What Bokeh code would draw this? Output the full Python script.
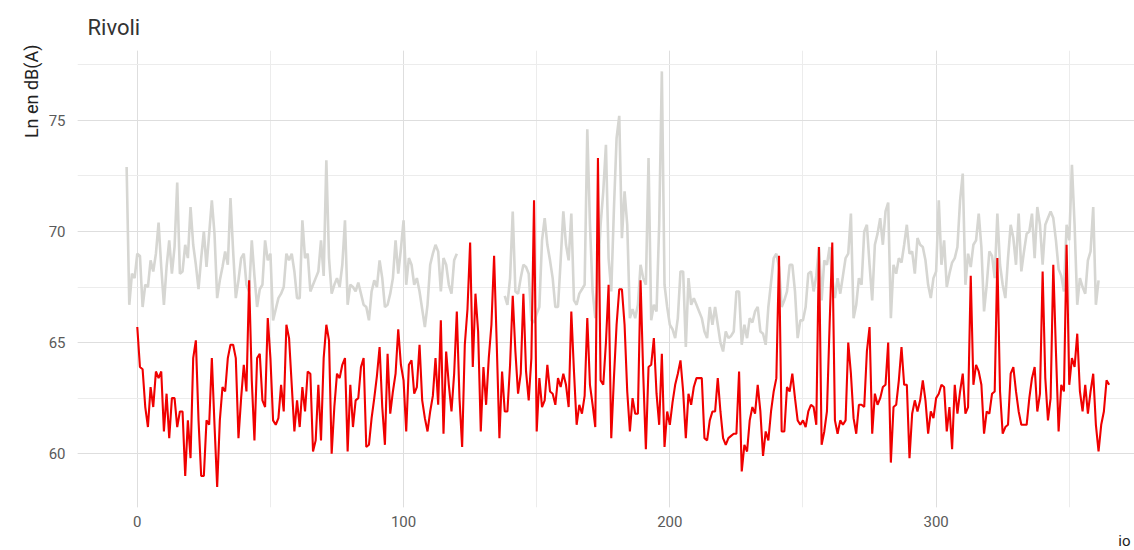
import numpy as np
from bokeh.plotting import figure
from bokeh.models import Range1d, SingleIntervalTicker, Title
from bokeh.embed import file_html
from bokeh.resources import INLINE

# ---- data ----
grey_days = list(range(-4, 121)) + list(range(138, 362))
grey_vals = [
    72.9, 66.7, 68.1, 67.9, 69.0, 68.9, 66.6, 67.6, 67.5, 68.7, 68.2, 69.0, 70.4, 68.4, 66.7, 68.4,
    69.6, 68.1, 69.3, 72.2, 68.1, 68.2, 69.4, 68.8, 71.1, 69.4, 68.5, 67.4, 68.8, 70.0, 68.4, 69.9,
    71.4, 69.9, 67.0, 67.8, 68.4, 69.1, 68.5, 71.5, 69.1, 67.0, 67.8, 68.8, 69.0, 67.6, 67.3, 69.6,
    68.0, 66.6, 67.4, 67.6, 69.6, 68.7, 69.0, 66.0, 66.5, 67.0, 67.2, 67.5, 69.0, 68.7, 69.0, 68.2,
    67.0, 67.0, 70.5, 68.8, 69.0, 67.3, 67.6, 67.9, 68.2, 69.6, 68.0, 73.2, 68.8, 67.2, 67.6, 67.9,
    67.5, 68.5, 70.5, 66.7, 67.6, 67.5, 67.3, 67.7, 67.2, 66.7, 66.6, 66.0, 67.3, 67.8, 67.5, 68.7,
    67.9, 66.6, 66.7, 67.2, 67.9, 69.6, 68.1, 69.2, 70.5, 67.6, 68.8, 68.5, 67.6, 67.9, 67.3, 66.5,
    65.7, 66.7, 68.5, 69.0, 69.4, 69.1, 67.3, 68.8, 68.5, 67.6, 67.2, 68.7, 69.0,
    # 138 ->
    67.1, 66.7, 67.9, 70.9, 67.3, 67.2, 67.9, 68.5, 68.4, 68.1, 66.0, 65.9, 66.3, 66.6, 69.6, 70.6,
    69.4, 68.7, 67.9, 66.6, 66.6, 68.7, 70.9, 69.4, 68.7, 70.8, 66.9, 66.7, 67.2, 67.4, 67.6, 74.6,
    70.3, 67.3, 66.1, 68.0, 70.3, 71.8, 73.9, 68.8, 67.3, 71.0, 74.2, 75.2, 69.7, 71.8, 70.3, 66.1,
    66.5, 66.1, 66.7, 68.5, 67.9, 67.6, 73.3, 66.0, 66.7, 66.4, 70.3, 77.2, 67.6, 66.6, 65.8, 65.6,
    65.2, 66.1, 68.2, 68.2, 64.8, 67.9, 66.7, 67.0, 66.7, 66.4, 66.1, 65.5, 65.2, 66.6, 65.8, 66.6,
    65.8, 65.0, 64.6, 65.5, 65.2, 65.3, 65.5, 67.3, 67.3, 64.9, 65.8, 65.2, 66.1, 65.9, 66.4, 66.6,
    65.5, 65.4, 64.9, 66.6, 67.7, 68.8, 69.0, 68.4, 66.6, 66.9, 67.3, 68.5, 68.5, 67.3, 65.2, 66.0,
    66.0, 66.6, 68.1, 68.2, 67.3, 68.0, 69.3, 66.9, 68.7, 68.5, 69.3, 67.9, 67.0, 67.9, 67.2, 68.0,
    68.8, 69.0, 70.8, 66.1, 66.7, 67.9, 67.6, 70.0, 70.3, 68.5, 66.9, 69.4, 69.9, 70.6, 69.4, 70.9,
    71.3, 66.1, 68.5, 68.1, 68.8, 68.6, 69.4, 70.3, 69.0, 69.1, 68.1, 69.7, 69.4, 69.3, 68.7, 67.6,
    67.0, 67.9, 68.2, 71.4, 68.5, 69.6, 67.5, 68.1, 68.6, 68.8, 69.3, 71.4, 72.6, 67.6, 69.0, 68.4,
    69.4, 69.6, 70.8, 69.3, 66.4, 67.6, 69.1, 68.9, 67.9, 70.8, 68.5, 67.6, 67.0, 68.8, 70.3, 69.7,
    68.5, 70.8, 68.2, 69.1, 69.9, 70.0, 70.8, 68.8, 71.1, 70.3, 68.5, 70.3, 70.6, 70.9, 70.6, 69.6,
    68.3, 68.0, 67.3, 70.3, 69.6, 73.0, 70.3, 66.7, 67.9, 67.5, 67.2, 68.7, 69.1, 71.1, 66.7, 67.8,
]

red_days = list(range(0, 366))
red_vals = [
    65.7, 63.9, 63.8, 62.1, 61.2, 63.0, 62.1, 63.7, 63.4, 63.7, 61.0, 62.7, 60.7, 62.5, 62.5, 61.2,
    61.9, 61.9, 59.0, 61.5, 59.8, 64.3, 65.1, 61.5, 59.0, 59.0, 61.5, 61.3, 64.3, 61.3, 58.5, 61.5,
    63.0, 62.8, 64.3, 64.9, 64.9, 64.3, 60.7, 62.5, 64.0, 62.8, 67.8, 63.3, 60.6, 64.3, 64.5, 62.4,
    62.1, 66.1, 64.3, 61.5, 61.3, 61.6, 63.1, 61.9, 65.8, 65.2, 63.1, 61.0, 62.4, 61.2, 63.0, 61.9,
    63.7, 63.6, 60.1, 60.6, 63.1, 60.6, 64.3, 65.8, 65.1, 60.0, 62.1, 63.6, 63.4, 64.0, 64.3, 60.1,
    63.1, 61.2, 62.4, 62.5, 63.9, 64.3, 60.3, 60.4, 61.6, 62.5, 63.5, 64.8, 62.1, 60.4, 64.5, 61.8,
    62.8, 63.6, 65.6, 64.0, 63.3, 61.0, 64.0, 64.2, 62.7, 63.0, 64.9, 62.4, 61.6, 61.0, 61.9, 62.6,
    64.3, 62.2, 66.0, 60.9, 64.6, 63.1, 61.9, 63.6, 66.4, 62.5, 60.3, 64.9, 66.5, 69.5, 63.9, 67.2,
    65.5, 61.0, 63.9, 62.2, 64.3, 65.8, 68.9, 64.9, 60.7, 63.7, 61.9, 61.9, 64.0, 67.1, 64.6, 62.7,
    63.6, 67.2, 63.7, 62.4, 64.3, 71.4, 61.0, 63.4, 62.1, 62.4, 64.0, 62.8, 62.7, 62.2, 63.4, 63.0,
    63.6, 63.1, 62.1, 66.4, 63.7, 61.3, 62.2, 61.8, 62.6, 66.1, 63.1, 62.2, 61.2, 73.3, 63.3, 63.1,
    65.0, 67.6, 60.7, 63.4, 65.8, 67.4, 67.4, 65.8, 62.8, 61.0, 62.5, 61.8, 61.8, 67.8, 63.6, 60.2,
    63.9, 64.0, 65.2, 62.7, 61.3, 64.5, 60.3, 61.9, 61.3, 62.3, 63.1, 63.6, 64.2, 62.8, 60.7, 62.7,
    62.2, 63.0, 63.4, 63.4, 63.4, 60.7, 60.6, 61.5, 61.9, 61.9, 63.4, 61.9, 60.7, 60.4, 60.7, 60.8,
    60.9, 60.9, 63.7, 59.2, 60.4, 60.1, 61.5, 62.1, 61.8, 63.1, 61.9, 59.9, 61.0, 60.6, 61.9, 62.8,
    63.4, 68.9, 61.0, 61.0, 63.0, 62.8, 63.6, 62.5, 61.5, 61.3, 61.5, 61.2, 61.9, 62.2, 62.1, 61.3,
    69.3, 60.4, 61.0, 61.9, 65.8, 69.5, 61.5, 60.9, 61.5, 61.3, 61.5, 65.0, 63.6, 61.6, 60.9, 62.2,
    62.2, 62.1, 64.6, 65.7, 60.9, 62.7, 62.2, 62.5, 63.0, 63.1, 65.0, 59.6, 62.1, 62.2, 63.3, 64.8,
    63.1, 63.1, 59.8, 61.8, 62.4, 61.9, 62.4, 63.3, 62.4, 60.9, 61.9, 61.6, 62.5, 62.7, 63.1, 63.0,
    61.0, 62.1, 60.2, 63.1, 61.8, 62.8, 63.6, 61.8, 62.1, 68.0, 63.1, 64.0, 63.7, 63.1, 60.9, 61.9,
    61.8, 62.7, 62.8, 68.8, 62.8, 60.9, 61.2, 61.3, 63.6, 63.9, 62.8, 61.9, 61.3, 61.3, 61.3, 62.5,
    63.4, 63.9, 61.9, 62.7, 68.2, 63.4, 61.5, 62.5, 68.5, 64.6, 61.0, 63.1, 62.8, 69.4, 63.1, 64.3,
    63.9, 65.4, 62.8, 61.9, 63.1, 61.8, 62.8, 63.6, 61.3, 60.1, 61.3, 61.9, 63.3, 63.1,
]

y_label = "Ln en dB(A)"
title_text = "Rivoli"
x_label = "io"

# ---- figure ----
p = figure(width=1134, height=550,
           x_range=Range1d(-22.45, 374.5), y_range=Range1d(57.58, 78.14),
           output_backend="svg", toolbar_location=None,
           min_border_left=77, min_border_right=0, min_border_top=50, min_border_bottom=43)
p.outline_line_color = None
p.background_fill_color = "white"
p.border_fill_color = "white"

p.title.text = title_text
p.title.text_font = "Roboto"
p.title.text_font_size = "22px"
p.title.text_font_style = "normal"
p.title.text_color = "#333333"
p.title.offset = 10
p.title.standoff = 3

# small spacer between the frame and the title
p.add_layout(Title(text=" ", text_font_size="7px", standoff=0), "above")

p.xaxis.ticker = SingleIntervalTicker(interval=100, num_minor_ticks=2)
p.yaxis.ticker = SingleIntervalTicker(interval=5, num_minor_ticks=2)
for ax in (p.xaxis[0], p.yaxis[0]):
    ax.axis_line_color = None
    ax.major_tick_line_color = None
    ax.minor_tick_line_color = None
    ax.major_label_text_font = "Roboto"
    ax.major_label_text_font_size = "15px"
    ax.major_label_text_color = "#5a5a5a"
p.yaxis.major_label_standoff = 6
p.xaxis.major_label_standoff = 2

for g in (p.xgrid[0], p.ygrid[0]):
    g.grid_line_color = "#dedede"
    g.grid_line_width = 1
    g.minor_grid_line_color = "#ececec"
    g.minor_grid_line_width = 1

p.add_layout(Title(text=y_label, align="right", offset=-6, standoff=7, text_font="Roboto",
                   text_font_size="18px", text_font_style="normal", text_color="#222222"), "left")

p.add_layout(Title(text=x_label, align="right", offset=4, standoff=0, text_font="Roboto",
                   text_font_size="15px", text_font_style="normal", text_color="#222222"), "below")

gx = np.array(grey_days, dtype=float)
gy = np.array(grey_vals, dtype=float)
# break the line where days are missing
gap = np.where(np.diff(gx) > 1)[0]
gx_plot = np.insert(gx, gap + 1, np.nan)
gy_plot = np.insert(gy, gap + 1, np.nan)

p.line(gx_plot, gy_plot, line_color="#d6d6d2", line_width=2.6)
p.line(red_days, red_vals, line_color="#f00000", line_width=2.1)

open("out.html", "w").write(file_html(p, INLINE))
